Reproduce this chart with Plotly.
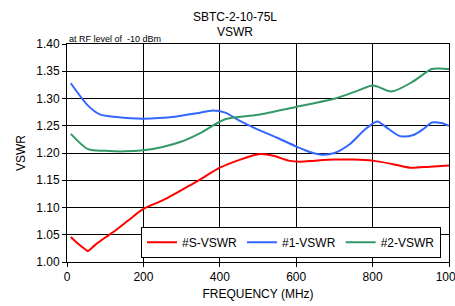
import plotly.graph_objects as go

freq_s = [10, 30, 50, 55, 62, 73, 100, 121, 160, 199, 250, 287, 320, 348, 400, 450, 505, 540, 580, 610, 650, 700, 750, 800, 850, 898, 950, 1000]
vswr_s = [1.046, 1.033, 1.022, 1.020, 1.024, 1.031, 1.045, 1.055, 1.076, 1.097, 1.113, 1.127, 1.140, 1.151, 1.173, 1.187, 1.198, 1.195, 1.186, 1.184, 1.186, 1.188, 1.188, 1.186, 1.180, 1.173, 1.175, 1.177]

freq_1 = [10, 55, 86, 130, 200, 287, 340, 383, 414, 450, 500, 550, 600, 640, 668, 700, 740, 780, 812, 840, 872, 907, 935, 955, 980, 1000]
vswr_1 = [1.328, 1.287, 1.271, 1.266, 1.263, 1.267, 1.273, 1.278, 1.274, 1.260, 1.243, 1.228, 1.212, 1.201, 1.197, 1.200, 1.216, 1.243, 1.258, 1.245, 1.231, 1.233, 1.245, 1.256, 1.255, 1.250]

freq_2 = [10, 55, 100, 150, 200, 250, 300, 350, 414, 500, 602, 702, 760, 801, 850, 903, 955, 975, 1000]
vswr_2 = [1.235, 1.207, 1.204, 1.203, 1.205, 1.211, 1.221, 1.237, 1.262, 1.270, 1.285, 1.300, 1.314, 1.324, 1.313, 1.330, 1.354, 1.355, 1.354]

x_ticks = [0, 200, 400, 600, 800, 1000]
y_ticks = [1.00, 1.05, 1.10, 1.15, 1.20, 1.25, 1.30, 1.35, 1.40]

font = "Liberation Sans, Arial, sans-serif"

fig = go.Figure()
fig.add_trace(go.Scatter(x=freq_s, y=vswr_s, mode="lines", name="#S-VSWR",
                         line=dict(color="#ff0000", width=2, shape="spline", smoothing=0.8)))
fig.add_trace(go.Scatter(x=freq_1, y=vswr_1, mode="lines", name="#1-VSWR",
                         line=dict(color="#3366ff", width=2, shape="spline", smoothing=0.8)))
fig.add_trace(go.Scatter(x=freq_2, y=vswr_2, mode="lines", name="#2-VSWR",
                         line=dict(color="#339966", width=2, shape="spline", smoothing=0.8)))

fig.update_layout(
    width=455, height=306,
    margin=dict(l=67, r=6, t=44, b=44, autoexpand=False),
    paper_bgcolor="white", plot_bgcolor="white",
    font=dict(family=font, size=12, color="black"),
    showlegend=True,
    legend=dict(orientation="h", x=0.979, xanchor="right", y=0.02, yanchor="bottom",
                bordercolor="black", borderwidth=1, bgcolor="white",
                font=dict(size=12), itemwidth=30, tracegroupgap=0),
    annotations=[
        dict(text="SBTC-2-10-75L", x=0.44, y=1.0, xref="paper", yref="paper",
             yshift=27, showarrow=False, font=dict(size=12), yanchor="middle"),
        dict(text="VSWR", x=0.44, y=1.0, xref="paper", yref="paper",
             yshift=12, showarrow=False, font=dict(size=12), yanchor="middle"),
        dict(text="at RF level of  -10 dBm", x=0, y=1.0, xref="paper", yref="paper",
             xanchor="left", yanchor="bottom", showarrow=False, font=dict(size=9), yshift=-2),
    ],
)
fig.update_xaxes(range=[0, 1000], tickvals=x_ticks, ticks="outside", ticklen=4, tickcolor="black",
                 ticklabeloverflow="allow",
                 showgrid=True, gridcolor="black", gridwidth=1,
                 showline=True, linecolor="black", linewidth=1, mirror=True, zeroline=False,
                 title=dict(text="FREQUENCY (MHz)", font=dict(size=12), standoff=6))
fig.update_yaxes(range=[1.0, 1.4], tickvals=y_ticks, tickformat=".2f", ticks="outside", ticklen=4,
                 tickcolor="black", showgrid=True, gridcolor="black", gridwidth=1,
                 showline=True, linecolor="black", linewidth=1, mirror=True, zeroline=False,
                 title=dict(text="VSWR", font=dict(size=12), standoff=8))

fig.write_html("out.html", config={"displayModeBar": False},
               post_script="document.body.style.margin='0';document.body.style.padding='0';")
